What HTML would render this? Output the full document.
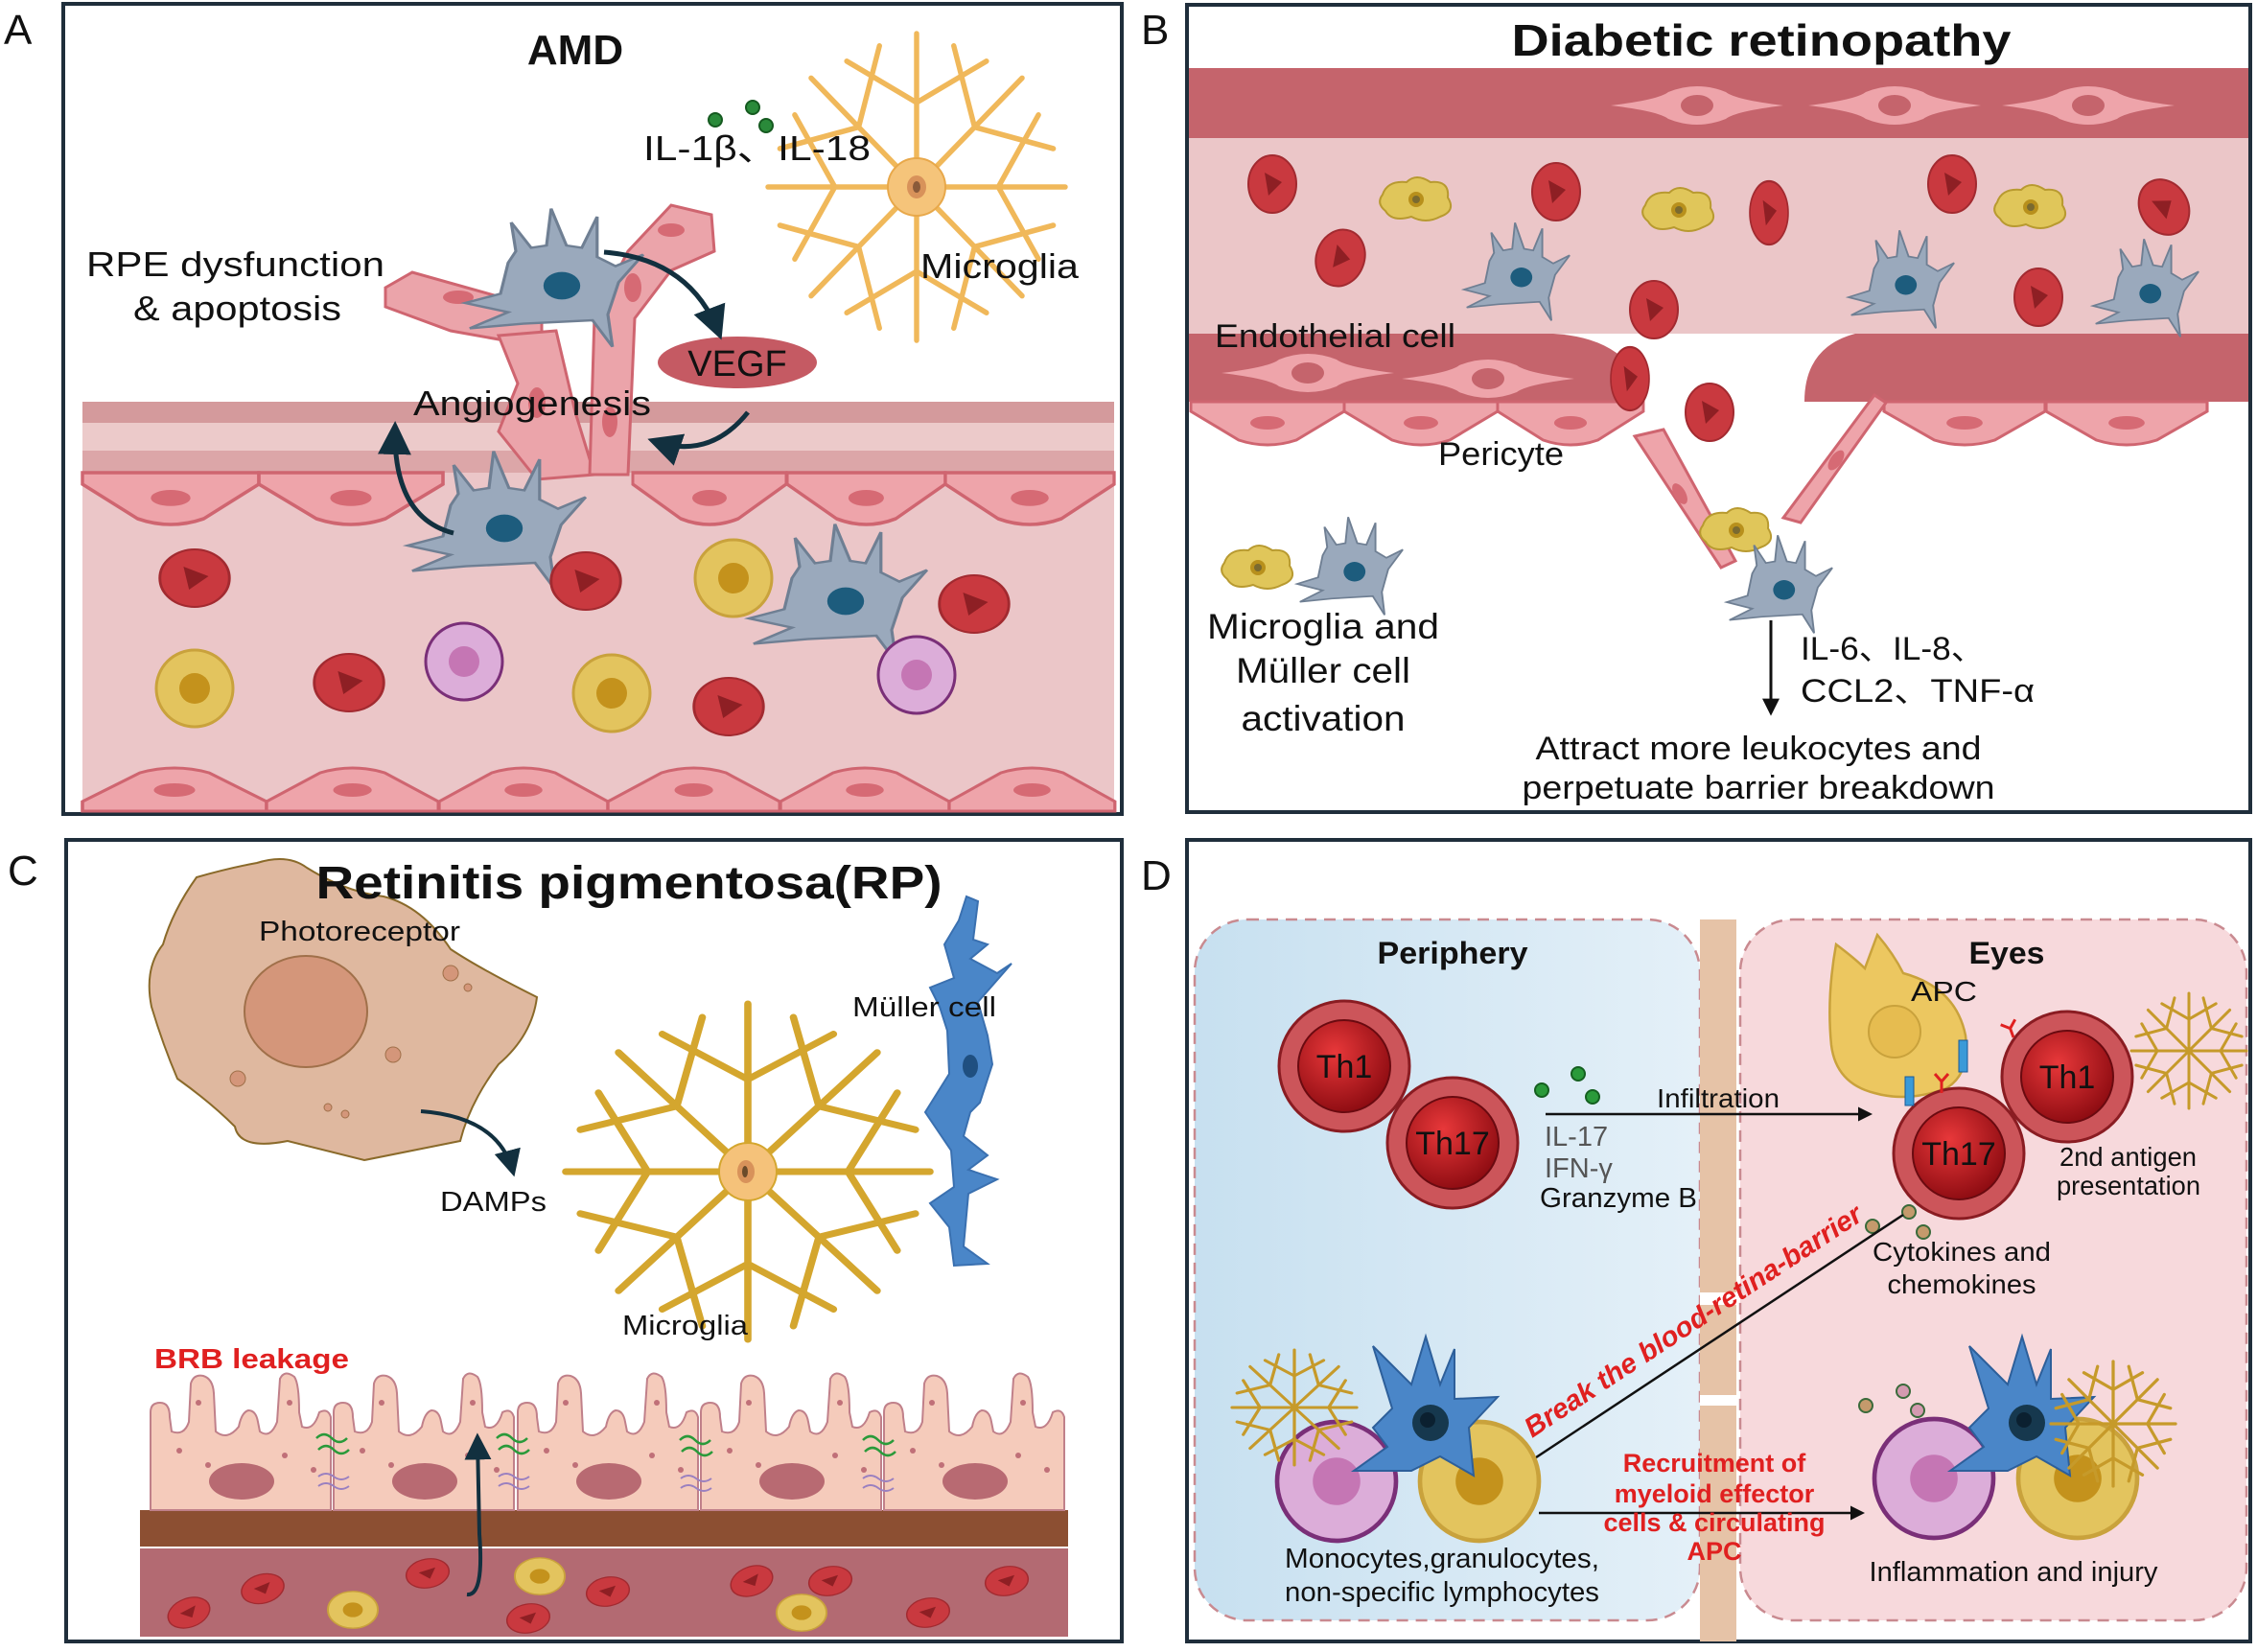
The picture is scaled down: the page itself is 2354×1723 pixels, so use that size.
<!DOCTYPE html>
<html><head><meta charset="utf-8"><style>
html,body{margin:0;padding:0;background:#fff}
svg{display:block}
text{font-family:"Liberation Sans","Noto Sans CJK SC",sans-serif;fill:#111}
.b{font-weight:bold}
</style></head><body>
<svg width="2354" height="1723" viewBox="0 0 2354 1723" xmlns="http://www.w3.org/2000/svg">
<defs>
<g id="rbc"><ellipse rx="25" ry="30" fill="#c9393f" stroke="#a22a30" stroke-width="2"/><path d="M-8,-12 L10,-2 L-4,12 Z" fill="#8e1f24"/></g>
<g id="ycell"><circle r="40" fill="#e3c45e" stroke="#c9a23c" stroke-width="3"/><circle r="16" fill="#c4921c"/></g>
<g id="pcell"><circle r="40" fill="#dcadd9" stroke="#7a2f78" stroke-width="3"/><circle r="16" fill="#c576b4"/></g>
<g id="gcell"><path d="M-30,-15 L-25,-25 L-28,-50 L-15,-28 L-5,-30 L-2,-62 L8,-30 L18,-28 L28,-55 L28,-20 L40,-12 L58,-22 L42,2 L35,30 L38,58 L25,35 L-20,38 L-55,42 L-30,28 L-58,20 L-35,12 Z" fill="#9aa9bc" stroke="#6f7f93" stroke-width="2"/><circle cx="5" cy="5" r="12" fill="#1d5c7d"/></g>
<g id="amoeba"><path d="M-35,-5 Q-30,-20 -10,-18 Q0,-28 15,-18 Q35,-20 33,-2 Q42,12 25,18 Q10,26 -5,18 Q-25,24 -32,12 Q-42,4 -35,-5 Z" fill="#e0c65a" stroke="#b89a30" stroke-width="2"/><circle r="8" fill="#b8901c"/><circle r="4" fill="#7a6a30"/></g>
<g id="mg" fill="none" stroke-linecap="round">
<path d="M0,0 L100,0 M55,0 L82,47 M55,0 L82,-47 M0,0 L71,71 M39,39 L25,92 M39,39 L92,25 M0,0 L0,100 M0,55 L-47,82 M0,55 L47,82 M0,0 L-71,71 M-39,39 L-92,25 M-39,39 L-25,92 M0,0 L-100,0 M-55,0 L-82,-47 M-55,0 L-82,47 M0,0 L-71,-71 M-39,-39 L-25,-92 M-39,-39 L-92,-25 M0,0 L0,-100 M0,-55 L47,-82 M0,-55 L-47,-82 M0,0 L71,-71 M39,-39 L92,-25 M39,-39 L25,-92"/>
</g>
<g id="endo"><path d="M0,0 L160,0 L160,10 Q140,22 110,40 Q80,50 50,40 Q20,22 0,10 Z" fill="#eea4aa" stroke="#cf6570" stroke-width="3"/><ellipse cx="80" cy="22" rx="18" ry="7" fill="#d66a74"/></g>
<g id="spindle"><path d="M-90,0 Q-40,-6 -30,-14 Q0,-26 30,-14 Q40,-6 90,0 Q40,6 30,14 Q0,26 -30,14 Q-40,6 -90,0 Z" fill="#eea4aa"/><ellipse rx="18" ry="12" fill="#c5646c" stroke="#eea4aa" stroke-width="2"/></g>
<g id="rpe"><path d="M0,142 L0,40 Q0,30 10,30 Q20,30 20,45 L22,60 Q35,65 40,50 L42,10 Q45,0 55,2 Q65,5 66,20 L68,60 Q80,70 92,55 Q95,40 102,38 Q110,38 112,50 L114,60 Q125,68 132,50 L135,5 Q140,-5 150,3 Q155,10 155,40 L158,55 Q170,60 176,40 Q185,35 188,45 L188,142 Z" fill="#f5cbbb" stroke="#c0808a" stroke-width="2"/><ellipse cx="95" cy="112" rx="34" ry="19" fill="#b86a72"/><circle cx="30" cy="80" r="3" fill="#c07078"/><circle cx="60" cy="95" r="3" fill="#c07078"/><circle cx="140" cy="85" r="3" fill="#c07078"/><circle cx="170" cy="100" r="3" fill="#c07078"/><circle cx="50" cy="30" r="3" fill="#c07078"/><circle cx="145" cy="30" r="3" fill="#c07078"/></g>
<g id="bdc"><path d="M-40,-10 L-60,-75 L-20,-35 L-5,-85 L10,-35 L25,-72 L25,-20 L70,-22 L40,10 L45,60 L10,40 L-20,55 L-80,55 L-45,30 L-60,10 Z" fill="#4a86c8" stroke="#2d5f9a" stroke-width="2"/><circle cx="0" cy="5" r="19" fill="#16384e"/><circle cx="-3" cy="2" r="8" fill="#0b2030"/></g>
<radialGradient id="thg" cx="40%" cy="35%" r="70%"><stop offset="0" stop-color="#e8383a"/><stop offset="1" stop-color="#8a0a10"/></radialGradient>
<g id="th"><circle r="68" fill="#cc555a" stroke="#8a1c22" stroke-width="3"/><circle r="48" fill="url(#thg)" stroke="#6a0a10" stroke-width="2"/></g>
<linearGradient id="blue" x1="0" x2="1"><stop offset="0" stop-color="#c7e0f0"/><stop offset="1" stop-color="#e4f0f8"/></linearGradient>
<marker id="ah" viewBox="0 0 10 10" refX="8" refY="5" markerWidth="7" markerHeight="7" orient="auto"><path d="M0,0 L10,5 L0,10 Z" fill="#12303f"/></marker>
<marker id="ak" viewBox="0 0 10 10" refX="8" refY="5" markerWidth="6" markerHeight="6" orient="auto"><path d="M0,0 L10,5 L0,10 Z" fill="#111"/></marker>
</defs>

<!-- ============ PANEL A ============ -->
<text x="4" y="46" font-size="44">A</text>
<rect x="66" y="4" width="1104" height="845" fill="#fff" stroke="#1f2e3b" stroke-width="4"/>
<rect x="86" y="419" width="1076" height="74" fill="#eccaca"/>
<rect x="86" y="419" width="1076" height="22" fill="#d49a9c"/>
<rect x="86" y="470" width="1076" height="23" fill="#dca6a8"/>
<rect x="86" y="493" width="1076" height="353" fill="#ebc6c8"/>
<use href="#endo" transform="translate(86,493) scale(1.15,1.2)"/>
<use href="#endo" transform="translate(270,493) scale(1.2,1.2)"/>
<use href="#endo" transform="translate(660,493) scale(1.0,1.2)"/>
<use href="#endo" transform="translate(821,493) scale(1.03,1.2)"/>
<use href="#endo" transform="translate(986,493) scale(1.1,1.2)"/>
<use href="#endo" transform="translate(86,846) scale(1.2,-1)"/>
<use href="#endo" transform="translate(278,846) scale(1.12,-1)"/>
<use href="#endo" transform="translate(458,846) scale(1.1,-1)"/>
<use href="#endo" transform="translate(634,846) scale(1.12,-1)"/>
<use href="#endo" transform="translate(814,846) scale(1.1,-1)"/>
<use href="#endo" transform="translate(990,846) scale(1.08,-1)"/>
<!-- sprout -->
<path d="M402,300 L430,284 L565,322 L565,362 L470,345 L402,320 Z" fill="#eba4aa" stroke="#cf6570" stroke-width="3"/>
<path d="M520,350 L580,345 L600,430 L620,495 L560,500 L520,450 L540,400 Z" fill="#eba4aa" stroke="#cf6570" stroke-width="3"/>
<path d="M615,495 L620,330 L655,262 L700,214 L742,224 L745,262 L700,282 L662,332 L655,495 Z" fill="#eba4aa" stroke="#cf6570" stroke-width="3"/>
<ellipse cx="478" cy="310" rx="16" ry="7" fill="#d66a74"/><ellipse cx="560" cy="420" rx="9" ry="16" fill="#d66a74"/><ellipse cx="636" cy="440" rx="8" ry="16" fill="#d66a74"/><ellipse cx="660" cy="300" rx="9" ry="15" fill="#d66a74"/><ellipse cx="700" cy="240" rx="14" ry="7" fill="#d66a74"/>
<use href="#gcell" transform="translate(578,292) scale(1.6,1.2)"/>
<use href="#gcell" transform="translate(518,545) scale(1.6,1.2)"/>
<use href="#gcell" transform="translate(874,621) scale(1.6,1.2)"/>
<use href="#rbc" transform="translate(203,603) scale(1.45,1)"/>
<use href="#rbc" transform="translate(611,606) scale(1.45,1)"/>
<use href="#rbc" transform="translate(364,712) scale(1.45,1)"/>
<use href="#rbc" transform="translate(760,737) scale(1.45,1)"/>
<use href="#rbc" transform="translate(1016,630) scale(1.45,1)"/>
<use href="#ycell" transform="translate(765,603)"/>
<use href="#ycell" transform="translate(203,718)"/>
<use href="#ycell" transform="translate(638,723)"/>
<use href="#pcell" transform="translate(484,690)"/>
<use href="#pcell" transform="translate(956,704)"/>
<!-- microglia A -->
<use href="#mg" transform="translate(956,195) scale(1.55,1.6)" stroke="#f0b85a" stroke-width="3.5"/>
<ellipse cx="956" cy="195" rx="30" ry="30" fill="#f5c47a" stroke="#e8a84a" stroke-width="2"/><ellipse cx="956" cy="195" rx="10" ry="12" fill="#d8925a"/><ellipse cx="956" cy="195" rx="4" ry="6" fill="#8a5a3a"/>
<circle cx="746" cy="125" r="7" fill="#2a8a3a" stroke="#155a20" stroke-width="2"/><circle cx="785" cy="112" r="7" fill="#2a8a3a" stroke="#155a20" stroke-width="2"/><circle cx="799" cy="131" r="7" fill="#2a8a3a" stroke="#155a20" stroke-width="2"/>
<ellipse cx="769" cy="378" rx="83" ry="27" fill="#c55a63"/>
<text x="769" y="392" font-size="38" text-anchor="middle">VEGF</text>
<path d="M630,263 Q720,270 750,348" fill="none" stroke="#12303f" stroke-width="5" marker-end="url(#ah)"/>
<path d="M780,430 Q740,480 682,460" fill="none" stroke="#12303f" stroke-width="5" marker-end="url(#ah)"/>
<path d="M473,556 Q410,540 412,446" fill="none" stroke="#12303f" stroke-width="5" marker-end="url(#ah)"/>
<text x="600" y="67" font-size="44" class="b" text-anchor="middle">AMD</text>
<text x="671" y="167" font-size="36" textLength="237" lengthAdjust="spacingAndGlyphs">IL-1β、IL-18</text>
<text x="960" y="290" font-size="36" textLength="165" lengthAdjust="spacingAndGlyphs">Microglia</text>
<text x="90" y="288" font-size="36" textLength="311" lengthAdjust="spacingAndGlyphs">RPE dysfunction</text>
<text x="139" y="334" font-size="36" textLength="217" lengthAdjust="spacingAndGlyphs">&amp; apoptosis</text>
<text x="431" y="433" font-size="36" textLength="248" lengthAdjust="spacingAndGlyphs">Angiogenesis</text>

<!-- ============ PANEL B ============ -->
<text x="1190" y="46" font-size="44">B</text>
<rect x="1238" y="5" width="1109" height="842" fill="#fff" stroke="#1f2e3b" stroke-width="4"/>
<rect x="1240" y="71" width="1105" height="73" fill="#c5646c"/>
<rect x="1240" y="144" width="1105" height="204" fill="#ebc6c8"/>
<use href="#spindle" transform="translate(1770,110)"/><use href="#spindle" transform="translate(1976,110)"/><use href="#spindle" transform="translate(2178,110)"/>
<path d="M1240,348 L1620,348 Q1690,352 1712,400 L1712,419 L1240,419 Z" fill="#c5646c"/>
<path d="M1882,419 Q1882,362 1935,348 L2345,348 L2345,419 Z" fill="#c5646c"/>
<use href="#spindle" transform="translate(1364,389)"/><use href="#spindle" transform="translate(1552,395)"/>
<use href="#endo" transform="translate(1242,419) scale(1.0,1)"/>
<use href="#endo" transform="translate(1402,419) scale(1.0,1)"/>
<use href="#endo" transform="translate(1562,419) scale(0.95,1)"/>
<use href="#endo" transform="translate(1965,419) scale(1.05,1)"/>
<use href="#endo" transform="translate(2134,419) scale(1.05,1)"/>
<path d="M1705,455 L1735,448 L1810,585 L1795,592 Z" fill="#eea4aa" stroke="#cf6570" stroke-width="3"/>
<path d="M1955,412 L1967,420 L1878,545 L1860,540 Z" fill="#eea4aa" stroke="#cf6570" stroke-width="3"/>
<ellipse cx="1752" cy="515" rx="6" ry="12" fill="#d66a74" transform="rotate(-30 1752 515)"/><ellipse cx="1915" cy="480" rx="6" ry="12" fill="#d66a74" transform="rotate(35 1915 480)"/>
<use href="#rbc" transform="translate(1327,192)"/><use href="#rbc" transform="translate(1623,200)"/><use href="#rbc" transform="translate(1398,269) rotate(20)"/><use href="#rbc" transform="translate(1845,222) scale(0.8,1.1)"/><use href="#rbc" transform="translate(1725,323)"/><use href="#rbc" transform="translate(2036,192)"/><use href="#rbc" transform="translate(2257,216) rotate(-30)"/><use href="#rbc" transform="translate(2126,310)"/><use href="#rbc" transform="translate(1700,395) scale(0.8,1.1)"/><use href="#rbc" transform="translate(1783,430)"/>
<use href="#amoeba" transform="translate(1477,208)"/><use href="#amoeba" transform="translate(1751,219)"/><use href="#amoeba" transform="translate(2118,216)"/><use href="#amoeba" transform="translate(1811,553)"/><use href="#amoeba" transform="translate(1312,592)"/>
<use href="#gcell" transform="translate(1582,285) scale(0.95,0.85)"/><use href="#gcell" transform="translate(1983,293) scale(0.95,0.85)"/><use href="#gcell" transform="translate(2238,302) scale(0.95,0.85)"/><use href="#gcell" transform="translate(1408,592) scale(0.95,0.85)"/><use href="#gcell" transform="translate(1856,611) scale(0.95,0.85)"/>
<line x1="1847" y1="647" x2="1847" y2="743" stroke="#111" stroke-width="3" marker-end="url(#ak)"/>
<text x="1837" y="58" font-size="46" class="b" text-anchor="middle" textLength="521" lengthAdjust="spacingAndGlyphs">Diabetic retinopathy</text>
<text x="1267" y="362" font-size="34" textLength="251" lengthAdjust="spacingAndGlyphs">Endothelial cell</text>
<text x="1500" y="485" font-size="34" textLength="131" lengthAdjust="spacingAndGlyphs">Pericyte</text>
<text x="1380" y="666" font-size="37" text-anchor="middle" textLength="242" lengthAdjust="spacingAndGlyphs">Microglia and</text>
<text x="1380" y="712" font-size="37" text-anchor="middle" textLength="182" lengthAdjust="spacingAndGlyphs">Müller cell</text>
<text x="1380" y="762" font-size="37" text-anchor="middle" textLength="171" lengthAdjust="spacingAndGlyphs">activation</text>
<text x="1878" y="688" font-size="34" textLength="192" lengthAdjust="spacingAndGlyphs">IL-6、IL-8、</text>
<text x="1878" y="732" font-size="34" textLength="244" lengthAdjust="spacingAndGlyphs">CCL2、TNF-α</text>
<text x="1834" y="792" font-size="34" text-anchor="middle" textLength="465" lengthAdjust="spacingAndGlyphs">Attract more leukocytes and</text>
<text x="1834" y="833" font-size="34" text-anchor="middle" textLength="493" lengthAdjust="spacingAndGlyphs">perpetuate barrier breakdown</text>

<!-- ============ PANEL C ============ -->
<text x="8" y="923" font-size="44">C</text>
<rect x="69" y="876" width="1101" height="836" fill="#fff" stroke="#1f2e3b" stroke-width="4"/>
<path d="M205,915 Q240,905 268,900 Q300,890 320,905 Q360,930 400,935 Q440,945 470,990 Q500,1010 560,1040 Q555,1080 520,1110 Q490,1150 480,1190 Q430,1200 380,1210 Q340,1200 300,1190 Q250,1200 245,1175 Q220,1150 185,1125 Q170,1090 158,1050 Q150,1010 170,985 Q180,950 205,915 Z" fill="#dfb89f" stroke="#8a6a2a" stroke-width="2"/>
<ellipse cx="319" cy="1055" rx="64" ry="58" fill="#d4967a" stroke="#a0704a" stroke-width="2"/>
<ellipse cx="470" cy="1015" rx="8" ry="8" fill="#d4967a" stroke="#a0704a"/><ellipse cx="410" cy="1100" rx="8" ry="8" fill="#d4967a" stroke="#a0704a"/><ellipse cx="248" cy="1125" rx="8" ry="8" fill="#d4967a" stroke="#a0704a"/><circle cx="342" cy="1155" r="4" fill="#d4967a" stroke="#a0704a"/><circle cx="360" cy="1162" r="4" fill="#d4967a" stroke="#a0704a"/><circle cx="488" cy="1030" r="4" fill="#d4967a" stroke="#a0704a"/>
<path d="M439,1159 Q520,1165 535,1222" fill="none" stroke="#12303f" stroke-width="4" marker-end="url(#ah)"/>
<use href="#mg" transform="translate(780,1222) scale(1.9,1.75)" stroke="#d4a62e" stroke-width="4"/>
<ellipse cx="780" cy="1222" rx="30" ry="30" fill="#f5c27a" stroke="#d4a62e" stroke-width="2"/><ellipse cx="778" cy="1222" rx="9" ry="12" fill="#d8925a"/><ellipse cx="777" cy="1222" rx="3" ry="6" fill="#6a4a2a"/>
<path d="M1008,935 L1020,940 L1015,980 L1030,985 L1012,1000 L1040,1015 L1055,1005 L1020,1045 L1030,1080 L1035,1110 L1022,1150 L1012,1160 L1005,1185 L1030,1205 L1010,1220 L1040,1230 L1010,1245 L1005,1300 L1030,1318 L995,1320 L990,1280 L970,1255 L995,1238 L992,1200 L965,1160 L990,1120 L988,1075 L980,1050 L970,1030 L995,1020 L985,985 L1000,960 Z" fill="#4a86c8" stroke="#3a70b0" stroke-width="2"/>
<ellipse cx="1012" cy="1112" rx="8" ry="12" fill="#1f4f80"/>
<rect x="146" y="1575" width="968" height="38" fill="#8c4f32"/>
<rect x="146" y="1615" width="968" height="92" fill="#b36a72"/>
<use href="#rpe" transform="translate(157,1433)"/><use href="#rpe" transform="translate(348,1433)"/><use href="#rpe" transform="translate(540,1433)"/><use href="#rpe" transform="translate(731,1433)"/><use href="#rpe" transform="translate(922,1433)"/>
<g stroke="#2a9a3a" stroke-width="2.5" fill="none"><path d="M330,1500 q8,-8 16,0 t16,0 M332,1512 q8,-8 16,0 t16,0"/><path d="M518,1500 q8,-8 16,0 t16,0 M520,1512 q8,-8 16,0 t16,0"/><path d="M709,1502 q8,-8 16,0 t16,0 M711,1514 q8,-8 16,0 t16,0"/><path d="M900,1502 q8,-8 16,0 t16,0 M902,1514 q8,-8 16,0 t16,0"/></g>
<g stroke="#9a80c0" stroke-width="2" fill="none"><path d="M332,1540 q8,-6 16,0 t16,0 M332,1550 q8,-6 16,0 t16,0"/><path d="M520,1540 q8,-6 16,0 t16,0 M520,1550 q8,-6 16,0 t16,0"/><path d="M710,1542 q8,-6 16,0 t16,0 M710,1552 q8,-6 16,0 t16,0"/><path d="M900,1542 q8,-6 16,0 t16,0 M900,1552 q8,-6 16,0 t16,0"/></g>
<use href="#rbc" transform="translate(197,1682) rotate(70) scale(0.6,0.75)"/><use href="#rbc" transform="translate(274,1657) rotate(75) scale(0.6,0.75)"/><use href="#rbc" transform="translate(446,1641) rotate(80) scale(0.6,0.75)"/><use href="#rbc" transform="translate(551,1688) rotate(80) scale(0.6,0.75)"/><use href="#rbc" transform="translate(634,1660) rotate(80) scale(0.6,0.75)"/><use href="#rbc" transform="translate(784,1649) rotate(70) scale(0.6,0.75)"/><use href="#rbc" transform="translate(866,1649) rotate(80) scale(0.6,0.75)"/><use href="#rbc" transform="translate(968,1682) rotate(80) scale(0.6,0.75)"/><use href="#rbc" transform="translate(1050,1649) rotate(80) scale(0.6,0.75)"/>
<use href="#ycell" transform="translate(368,1679) scale(0.65,0.48)"/><use href="#ycell" transform="translate(563,1644) scale(0.65,0.48)"/><use href="#ycell" transform="translate(836,1682) scale(0.65,0.48)"/>
<path d="M487,1663 Q505,1665 500,1600 L498,1500" fill="none" stroke="#12303f" stroke-width="4" marker-end="url(#ah)"/>
<text x="656" y="937" font-size="48" class="b" text-anchor="middle" textLength="653" lengthAdjust="spacingAndGlyphs">Retinitis pigmentosa(RP)</text>
<text x="270" y="981" font-size="29" textLength="210" lengthAdjust="spacingAndGlyphs">Photoreceptor</text>
<text x="459" y="1263" font-size="29" textLength="111" lengthAdjust="spacingAndGlyphs">DAMPs</text>
<text x="649" y="1392" font-size="29" textLength="131" lengthAdjust="spacingAndGlyphs">Microglia</text>
<text x="889" y="1060" font-size="29" textLength="150" lengthAdjust="spacingAndGlyphs">Müller cell</text>
<text x="161" y="1427" font-size="29" class="b" fill="#e02020" style="fill:#e02020" textLength="203" lengthAdjust="spacingAndGlyphs">BRB leakage</text>

<!-- ============ PANEL D ============ -->
<text x="1190" y="928" font-size="44">D</text>
<rect x="1238" y="876" width="1109" height="836" fill="#fff" stroke="#1f2e3b" stroke-width="4"/>
<rect x="1246" y="959" width="527" height="731" rx="55" fill="url(#blue)" stroke="#c98a90" stroke-width="2.5" stroke-dasharray="12,8"/>
<rect x="1815" y="959" width="528" height="731" rx="55" fill="#f7d9dc" stroke="#c98a90" stroke-width="2.5" stroke-dasharray="12,8"/>
<rect x="1773" y="959" width="38" height="753" fill="#e6c3a7"/>
<rect x="1773" y="1348" width="38" height="13" fill="#fff"/><rect x="1773" y="1455" width="38" height="11" fill="#fff"/>
<text x="1515" y="1005" font-size="32" class="b" text-anchor="middle" textLength="157" lengthAdjust="spacingAndGlyphs">Periphery</text>
<text x="2093" y="1005" font-size="32" class="b" text-anchor="middle" textLength="79" lengthAdjust="spacingAndGlyphs">Eyes</text>
<use href="#th" transform="translate(1402,1112)"/><text x="1402" y="1124" font-size="34" text-anchor="middle">Th1</text>
<use href="#th" transform="translate(1515,1192)"/><text x="1515" y="1204" font-size="34" text-anchor="middle">Th17</text>
<circle cx="1608" cy="1137" r="7" fill="#2a9a3a" stroke="#156020" stroke-width="2"/><circle cx="1646" cy="1120" r="7" fill="#2a9a3a" stroke="#156020" stroke-width="2"/><circle cx="1661" cy="1144" r="7" fill="#2a9a3a" stroke="#156020" stroke-width="2"/>
<line x1="1612" y1="1162" x2="1950" y2="1162" stroke="#111" stroke-width="2.5" marker-end="url(#ak)"/>
<text x="1728" y="1155" font-size="28" textLength="128" lengthAdjust="spacingAndGlyphs">Infiltration</text>
<text x="1611" y="1195" font-size="29" style="fill:#555">IL-17</text>
<text x="1611" y="1228" font-size="29" style="fill:#555">IFN-γ</text>
<text x="1606" y="1259" font-size="29" textLength="164" lengthAdjust="spacingAndGlyphs">Granzyme B</text>
<path d="M1915,985 Q1935,1000 1945,1010 L1958,975 Q1975,995 1985,1015 Q2040,1030 2050,1080 Q2055,1120 2030,1135 Q1990,1150 1955,1140 Q1915,1130 1910,1090 Q1905,1040 1915,985 Z" fill="#ecc760" stroke="#c9a23c" stroke-width="2.5"/>
<circle cx="1976" cy="1076" r="27" fill="#e6bc50" stroke="#c9a23c" stroke-width="2"/>
<text x="1993" y="1044" font-size="29" textLength="69" lengthAdjust="spacingAndGlyphs">APC</text>
<use href="#th" transform="translate(2156,1123)"/><text x="2156" y="1135" font-size="34" text-anchor="middle">Th1</text>
<use href="#th" transform="translate(2043,1203)"/><text x="2043" y="1215" font-size="34" text-anchor="middle">Th17</text>
<rect x="1987" y="1123" width="9" height="30" fill="#3a9ad8" stroke="#1a5a98"/>
<rect x="2043" y="1085" width="9" height="33" fill="#3a9ad8" stroke="#1a5a98"/>
<path d="M2025,1140 L2025,1128 M2025,1128 L2018,1120 M2025,1128 L2032,1120" stroke="#e02020" stroke-width="3" fill="none"/>
<path d="M2100,1082 L2100,1072 M2100,1072 L2092,1065 M2100,1072 L2108,1065" stroke="#e02020" stroke-width="3" fill="none" transform="rotate(-20 2100 1082)"/>
<use href="#mg" transform="translate(2283,1096) scale(0.6,0.6)" stroke="#c69a2a" stroke-width="5"/>
<text x="2148" y="1216" font-size="28" textLength="143" lengthAdjust="spacingAndGlyphs">2nd antigen</text>
<text x="2145" y="1246" font-size="28" textLength="150" lengthAdjust="spacingAndGlyphs">presentation</text>
<circle cx="1991" cy="1264" r="7" fill="#c49a6c" stroke="#3a6a3a" stroke-width="2"/><circle cx="1953" cy="1279" r="7" fill="#c49a6c" stroke="#3a6a3a" stroke-width="2"/><circle cx="2006" cy="1285" r="7" fill="#c49a6c" stroke="#3a6a3a" stroke-width="2"/>
<text x="2046" y="1315" font-size="28" text-anchor="middle" textLength="186" lengthAdjust="spacingAndGlyphs">Cytokines and</text>
<text x="2046" y="1349" font-size="28" text-anchor="middle" textLength="155" lengthAdjust="spacingAndGlyphs">chemokines</text>
<line x1="1985" y1="1267" x2="1584" y2="1532" stroke="#111" stroke-width="2.5" marker-end="url(#ak)"/>
<text transform="translate(1598,1500) rotate(-33.4)" font-size="29" class="b" font-style="italic" style="fill:#e02020" textLength="415" lengthAdjust="spacingAndGlyphs">Break the blood-retina-barrier</text>
<!-- bottom left cells -->
<use href="#pcell" transform="translate(1394,1545) scale(1.55)"/>
<use href="#ycell" transform="translate(1543,1545) scale(1.55)"/>
<use href="#bdc" transform="translate(1492,1479)"/>
<use href="#mg" transform="translate(1350,1468) scale(0.65,0.6)" stroke="#c69a2a" stroke-width="5"/>
<line x1="1605" y1="1578" x2="1942" y2="1578" stroke="#111" stroke-width="2.5" marker-end="url(#ak)"/>
<g font-size="27" class="b" text-anchor="middle" style="fill:#e02020">
<text x="1788" y="1535" style="fill:#e02020">Recruitment of</text>
<text x="1788" y="1567" style="fill:#e02020">myeloid effector</text>
<text x="1788" y="1597" style="fill:#e02020">cells &amp; circulating</text>
<text x="1788" y="1627" style="fill:#e02020">APC</text>
</g>
<text x="1504" y="1635" font-size="29" text-anchor="middle" textLength="328" lengthAdjust="spacingAndGlyphs">Monocytes,granulocytes,</text>
<text x="1504" y="1670" font-size="29" text-anchor="middle" textLength="328" lengthAdjust="spacingAndGlyphs">non-specific lymphocytes</text>
<!-- bottom right cells -->
<use href="#pcell" transform="translate(2017,1542) scale(1.55)"/>
<use href="#ycell" transform="translate(2167,1542) scale(1.55)"/>
<use href="#bdc" transform="translate(2114,1479)"/>
<use href="#mg" transform="translate(2204,1485) scale(0.65,0.65)" stroke="#c69a2a" stroke-width="5"/>
<circle cx="1946" cy="1466" r="7" fill="#c49a6c" stroke="#3a6a3a" stroke-width="2"/><circle cx="1985" cy="1451" r="7" fill="#d49ab0" stroke="#3a6a3a" stroke-width="2"/><circle cx="2000" cy="1471" r="7" fill="#d49ab0" stroke="#3a6a3a" stroke-width="2"/>
<text x="2100" y="1649" font-size="29" text-anchor="middle" textLength="301" lengthAdjust="spacingAndGlyphs">Inflammation and injury</text>
</svg>
</body></html>
